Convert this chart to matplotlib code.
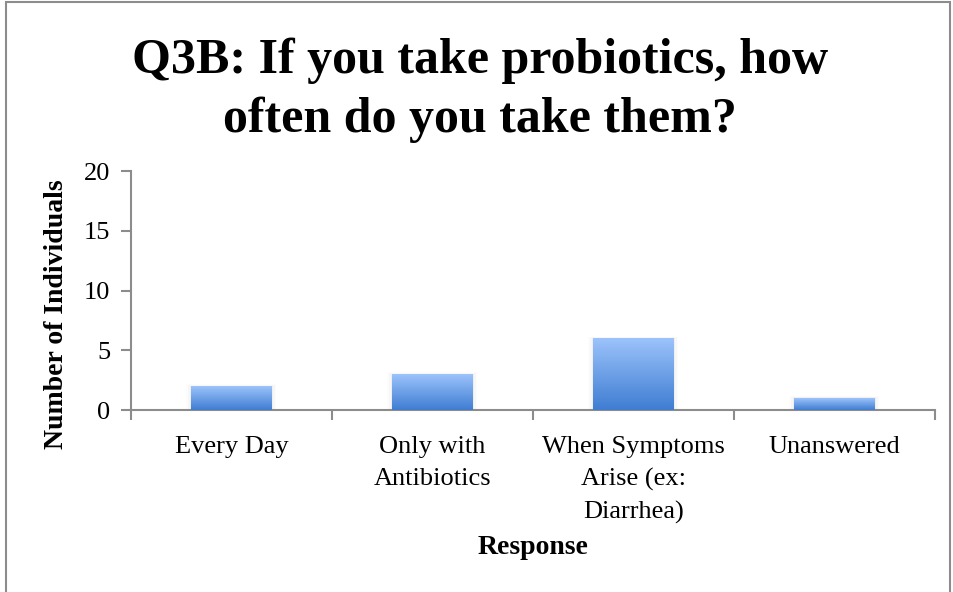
"""
Q3B probiotics frequency bar chart
"""

import numpy as np
import matplotlib.pyplot as plt
from matplotlib.colors import LinearSegmentedColormap
from matplotlib.patches import Rectangle

categories = ['Every Day', 'Only with\nAntibiotics',
              'When Symptoms\nArise (ex:\nDiarrhea)', 'Unanswered']
counts = [2, 3, 6, 1]
y_ticks = [0, 5, 10, 15, 20]

title = 'Q3B: If you take probiotics, how\noften do you take them?'

plt.rcParams['font.family'] = ['Liberation Serif', 'DejaVu Serif']

fig = plt.figure(figsize=(9.54, 5.92), dpi=100)
ax = fig.add_axes([0.1373, 0.3074, 0.8427, 0.4037])

# outer chart border like the spreadsheet frame
fig.patches.append(Rectangle((6 / 954, -0.1), 944 / 954, 1.1 - 2 / 592,
                             transform=fig.transFigure, fill=False,
                             edgecolor='#8c8c8c', lw=1.5))

x = np.arange(len(categories))
bars = ax.bar(x, counts, width=0.4, color='none', edgecolor='none', zorder=2)

# vertical gradient in each bar, light on top to darker at base
cmap = LinearSegmentedColormap.from_list('bluegrad', ['#3f7dd2', '#9cc3fb'])
grad = np.linspace(0, 1, 256).reshape(-1, 1)
for bar in bars:
    x0, y0 = bar.get_xy()
    w, h = bar.get_width(), bar.get_height()
    # soft shadow
    for i, a in enumerate([0.03, 0.02, 0.012]):
        d = 0.008 * (i + 1)
        ax.add_patch(Rectangle((x0 - d, y0), w + 2 * d, h + d * 6,
                               facecolor='#000000', alpha=a, edgecolor='none',
                               zorder=1))
    ax.imshow(grad, extent=[x0, x0 + w, y0, y0 + h], origin='lower',
              aspect='auto', cmap=cmap, zorder=3)

ax.set_xlim(-0.5, len(categories) - 0.5)
ax.set_ylim(0, 20)
ax.set_yticks(y_ticks)
ax.set_xticks(x)
ax.set_xticklabels(categories, fontsize=19, linespacing=1.55)
ax.set_xticks(np.arange(len(categories) + 1) - 0.5, minor=True)
ax.tick_params(axis='x', which='major', length=0, pad=19)
ax.tick_params(axis='x', which='minor', length=7, width=1.5, color='#8c8c8c',
               direction='out')
ax.tick_params(axis='y', length=7, width=1.5, color='#8c8c8c', labelsize=19,
               pad=8)

for side in ['top', 'right']:
    ax.spines[side].set_visible(False)
for side in ['left', 'bottom']:
    ax.spines[side].set_color('#8c8c8c')
    ax.spines[side].set_linewidth(1.5)

ax.set_ylabel('Number of Individuals', fontsize=20, fontweight='bold')
ax.yaxis.set_label_coords(-0.077, 0.40)
ax.set_xlabel('Response', fontsize=20, fontweight='bold', labelpad=8)

fig.text(0.503, 0.848, title, ha='center', va='center', fontsize=36,
         fontweight='bold', linespacing=1.35)

plt.savefig('out.png', dpi=100)
plt.close()
